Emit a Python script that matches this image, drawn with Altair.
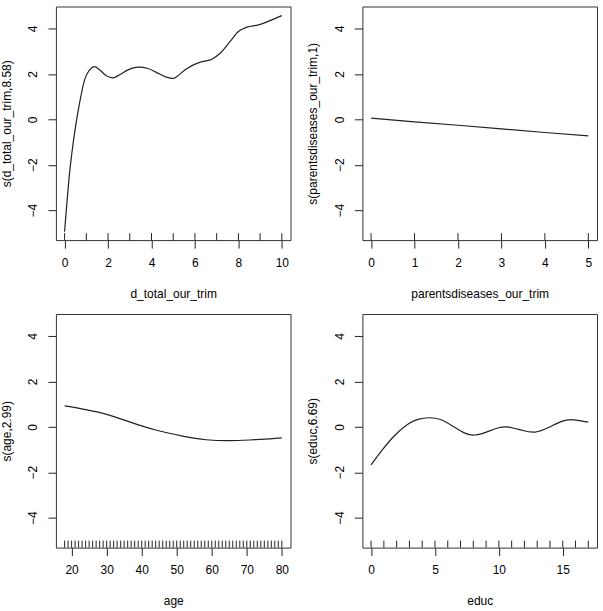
import altair as alt
import pandas as pd

# ---- data ----
d_x = [0, 0.23, 0.46, 0.69, 0.92, 1.15, 1.38, 1.61, 1.92, 2.22, 2.53, 2.92, 3.38, 3.84,
       4.22, 4.68, 5.0, 5.17, 5.55, 5.93, 6.32, 6.78, 7.16, 7.62, 8.0, 8.39, 8.92, 9.46, 10.0]
d_y = [-4.95, -2.36, -0.6, 0.72, 1.74, 2.18, 2.32, 2.18, 1.92, 1.83, 1.96, 2.18, 2.30, 2.24,
       2.07, 1.86, 1.8, 1.89, 2.18, 2.40, 2.54, 2.65, 2.91, 3.43, 3.87, 4.06, 4.16, 4.35, 4.57]
d_rug = list(range(0, 11))

p_x = [0, 1, 2, 3, 4, 5]
p_y = [0.05, -0.11, -0.26, -0.42, -0.58, -0.73]
p_rug = list(range(0, 6))

a_x = [18, 24, 30, 36.5, 44, 51.7, 58.4, 65, 70.7, 76.5, 80]
a_y = [0.92, 0.76, 0.55, 0.22, -0.14, -0.41, -0.57, -0.61, -0.58, -0.53, -0.49]
a_rug = list(range(18, 81))

e_x = [0, 0.88, 1.92, 2.96, 3.74, 4.5, 5.43, 6.47, 7.38, 8.16, 9.07, 9.98, 10.76, 11.8,
       12.84, 13.88, 14.92, 15.83, 17.0]
e_y = [-1.68, -1.02, -0.34, 0.15, 0.34, 0.40, 0.32, 0.0, -0.29, -0.36, -0.22, -0.04, -0.01,
       -0.15, -0.23, -0.03, 0.24, 0.31, 0.21]
e_rug = list(range(0, 18))

y_ticks = [-4, -2, 0, 2, 4]
Y_DOMAIN = [-5.32, 4.97]

W, H = 235, 234
FONT = "Liberation Sans"
INK = "#222222"


def panel(x, y, rug, xname, yname, xdom, xticks, interp):
    line_df = pd.DataFrame({"x": x, "y": y})
    rug_df = pd.DataFrame({"x": rug})
    xaxis = alt.Axis(values=xticks, title=xname, tickSize=8, labelPadding=9,
                     titleX=W / 2, titleY=57, titleAlign="center",
                     titleBaseline="alphabetic", labelFlush=False, labelOverlap=False)
    yaxis = alt.Axis(values=y_ticks, title=yname, tickSize=8, labelPadding=11,
                     labelAngle=270, labelAlign="center", labelBaseline="alphabetic",
                     titleAngle=270, titleX=-45.5, titleY=H / 2, titleAlign="center",
                     titleBaseline="alphabetic", labelFlush=False, labelOverlap=False)
    xscale = alt.Scale(domain=xdom, nice=False, zero=False)
    xenc = alt.X("x:Q", scale=xscale, axis=xaxis)
    line = alt.Chart(line_df).mark_line(color=INK, strokeWidth=1.2, interpolate=interp).encode(
        x=xenc,
        y=alt.Y("y:Q", scale=alt.Scale(domain=Y_DOMAIN, nice=False, zero=False), axis=yaxis),
    )
    rugl = alt.Chart(rug_df).mark_rule(color=INK, strokeWidth=1).encode(
        x=xenc, y=alt.value(H - 7), y2=alt.value(H)
    )
    return alt.layer(line, rugl).properties(width=W, height=H)


c1 = panel(d_x, d_y, d_rug, "d_total_our_trim", "s(d_total_our_trim,8.58)",
           [-0.4, 10.4], [0, 2, 4, 6, 8, 10], "monotone")
c2 = panel(p_x, p_y, p_rug, "parentsdiseases_our_trim", "s(parentsdiseases_our_trim,1)",
           [-0.2, 5.2], [0, 1, 2, 3, 4, 5], "linear")
c3 = panel(a_x, a_y, a_rug, "age", "s(age,2.99)",
           [15.52, 82.48], [20, 30, 40, 50, 60, 70, 80], "natural")
c4 = panel(e_x, e_y, e_rug, "educ", "s(educ,6.69)",
           [-0.68, 17.68], [0, 5, 10, 15], "natural")

chart = alt.concat(
    c1, c2, c3, c4, columns=2,
    spacing={"row": 74, "column": 72}, bounds="flush",
).properties(
    padding={"left": 0, "top": 5, "right": 5, "bottom": 5},
    background="white",
).configure_view(
    stroke="#333333", strokeWidth=1
).configure_axis(
    domain=False, grid=False, tickColor=INK, tickWidth=1,
    labelColor="black", titleColor="black",
    labelFont=FONT, titleFont=FONT, labelFontSize=12, titleFontSize=12,
    titleFontWeight="normal",
)

chart.save("out.html", embed_options={"renderer": "svg", "actions": False})
